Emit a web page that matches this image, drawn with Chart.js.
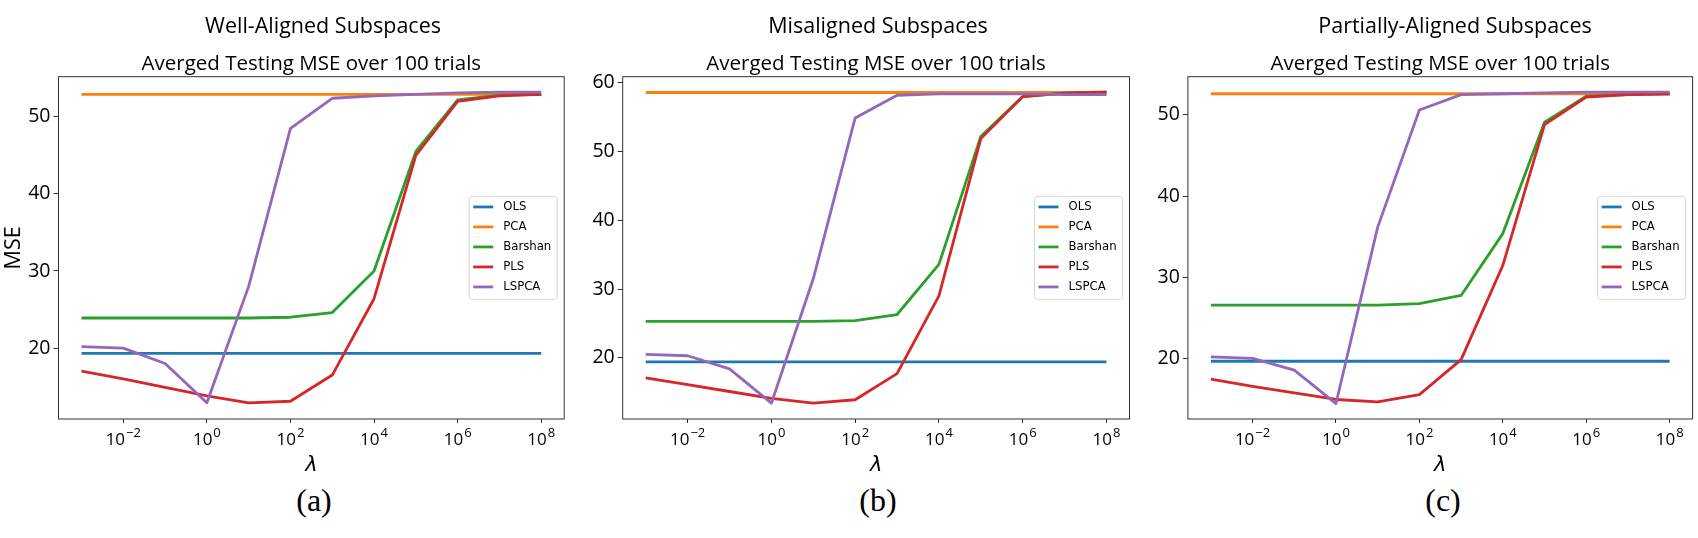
<!DOCTYPE html>
<html lang="en">
<head>
<meta charset="UTF-8">
<title>Averged Testing MSE over 100 trials</title>
<script src="https://cdn.jsdelivr.net/npm/chart.js"></script>
<style>
  body { margin: 0; background: #fff; }
  #fig { position: relative; width: 1698px; height: 538px; overflow: hidden; font-family: 'Open Sans', sans-serif; }
  #fig canvas { position: absolute; top: 0; }
  .suptitle { position: absolute; top: 25px; transform: translate(-50%, -50%); font-size: 21.5px; line-height: 1; white-space: nowrap; color: #000; }
  .caption { position: absolute; top: 500px; transform: translate(-50%, -50%); font-family: 'Liberation Serif', serif; font-size: 32px; line-height: 1; color: #000; }
</style>
</head>
<body>
<div id="fig">
  <canvas id="chartA" width="570" height="480" style="left:0px"></canvas>
  <canvas id="chartB" width="572" height="480" style="left:564px"></canvas>
  <canvas id="chartC" width="569" height="480" style="left:1129px"></canvas>

  <div class="suptitle" style="left:323px">Well-Aligned Subspaces</div>
  <div class="suptitle" style="left:878px">Misaligned Subspaces</div>
  <div class="suptitle" style="left:1455px">Partially-Aligned Subspaces</div>

  <div class="caption" style="left:314px">(a)</div>
  <div class="caption" style="left:878px">(b)</div>
  <div class="caption" style="left:1443px">(c)</div>
</div>
<script>
// lambda values (x axis, log scale)
const lambdas = [1e-3, 1e-2, 1e-1, 1e0, 1e1, 1e2, 1e3, 1e4, 1e5, 1e6, 1e7, 1e8];
const methods = ['OLS', 'PCA', 'Barshan', 'PLS', 'LSPCA'];
const colors = ['#1f77b4', '#ff7f0e', '#2ca02c', '#d62728', '#9467bd'];
// x tick labels are 10^exp
const xTickValues = [1e-2, 1e0, 1e2, 1e4, 1e6, 1e8];
const xTickExponents = ['−2', '0', '2', '4', '6', '8'];

// (a) Well-Aligned Subspaces
const wellOLS     = [19.3, 19.3, 19.3, 19.3, 19.3, 19.3, 19.3, 19.3, 19.3, 19.3, 19.3, 19.3];
const wellPCA     = [52.9, 52.9, 52.9, 52.9, 52.9, 52.9, 52.9, 52.9, 52.9, 52.9, 52.9, 52.9];
const wellBarshan = [23.9, 23.9, 23.9, 23.9, 23.9, 24.0, 24.6, 30.0, 45.5, 52.2, 52.8, 52.9];
const wellPLS     = [17.0, 16.0, 14.9, 13.8, 12.9, 13.1, 16.5, 26.4, 45.0, 52.0, 52.7, 52.9];
const wellLSPCA   = [20.2, 20.0, 18.0, 12.9, 28.0, 48.5, 52.4, 52.7, 52.9, 53.1, 53.2, 53.2];
const wellYTicks  = [20, 30, 40, 50];

// (b) Misaligned Subspaces
const misOLS     = [19.4, 19.4, 19.4, 19.4, 19.4, 19.4, 19.4, 19.4, 19.4, 19.4, 19.4, 19.4];
const misPCA     = [58.6, 58.6, 58.6, 58.6, 58.6, 58.6, 58.6, 58.6, 58.6, 58.6, 58.6, 58.6];
const misBarshan = [25.3, 25.3, 25.3, 25.3, 25.3, 25.4, 26.3, 33.6, 52.2, 58.0, 58.5, 58.6];
const misPLS     = [17.1, 16.1, 15.1, 14.1, 13.4, 13.9, 17.7, 29.0, 51.9, 58.0, 58.5, 58.7];
const misLSPCA   = [20.5, 20.3, 18.4, 13.4, 31.5, 54.9, 58.2, 58.4, 58.4, 58.4, 58.3, 58.3];
const misYTicks  = [20, 30, 40, 50, 60];

// (c) Partially-Aligned Subspaces
const partOLS     = [19.7, 19.7, 19.7, 19.7, 19.7, 19.7, 19.7, 19.7, 19.7, 19.7, 19.7, 19.7];
const partPCA     = [52.6, 52.6, 52.6, 52.6, 52.6, 52.6, 52.6, 52.6, 52.6, 52.6, 52.6, 52.6];
const partBarshan = [26.6, 26.6, 26.6, 26.6, 26.6, 26.8, 27.8, 35.4, 49.1, 52.3, 52.5, 52.6];
const partPLS     = [17.5, 16.6, 15.8, 15.0, 14.7, 15.6, 19.9, 31.5, 48.8, 52.2, 52.5, 52.6];
const partLSPCA   = [20.25, 20.05, 18.6, 14.5, 36.2, 50.6, 52.5, 52.6, 52.7, 52.8, 52.8, 52.8];
const partYTicks  = [20, 30, 40, 50];

Chart.defaults.font.family = "'Open Sans', sans-serif";
Chart.defaults.color = '#000';

// axes frame on all four sides, 10^n tick labels, legend box at centre right
const frameLegend = {
    id: 'frameLegend',
    afterDatasetsDraw(chart) {
        const { ctx, chartArea: a } = chart;
        ctx.save();
        ctx.strokeStyle = '#333';
        ctx.lineWidth = 1;
        ctx.strokeRect(a.left, a.top, a.right - a.left, a.bottom - a.top);

        // x tick labels with raised exponent
        const xs = chart.scales.x;
        const baseFont = "17px 'Open Sans', sans-serif";
        const expFont = "13px 'Open Sans', sans-serif";
        const baseY = a.bottom + 25.5;
        ctx.fillStyle = '#000';
        ctx.textBaseline = 'alphabetic';
        ctx.textAlign = 'left';
        xTickValues.forEach((v, i) => {
            const px = xs.getPixelForValue(v);
            ctx.font = baseFont;
            const wb = ctx.measureText('10').width;
            ctx.font = expFont;
            const we = ctx.measureText(xTickExponents[i]).width;
            const x0 = px - (wb + we + 1) / 2;
            ctx.font = baseFont;
            ctx.fillText('10', x0, baseY);
            ctx.font = expFont;
            ctx.fillText(xTickExponents[i], x0 + wb + 1, baseY - 7.8);
        });

        const w = 88, h = 103;
        const x0 = a.right - 7 - w;
        const y0 = (a.top + a.bottom) / 2 - h / 2;
        ctx.beginPath();
        ctx.roundRect(x0, y0, w, h, 3);
        ctx.fillStyle = 'rgba(255,255,255,0.8)';
        ctx.fill();
        ctx.strokeStyle = '#d6d6d6';
        ctx.stroke();

        ctx.font = '13px "Liberation Sans Narrow", "DejaVu Sans Condensed", sans-serif';
        ctx.textBaseline = 'middle';
        chart.data.datasets.forEach((ds, i) => {
            const y = y0 + 10.6 + i * 20;
            ctx.strokeStyle = ds.borderColor;
            ctx.lineWidth = 2.8;
            ctx.beginPath();
            ctx.moveTo(x0 + 4, y);
            ctx.lineTo(x0 + 24, y);
            ctx.stroke();
            ctx.fillStyle = '#000';
            ctx.fillText(ds.label, x0 + 34, y);
        });
        ctx.restore();
    }
};

function makeChart(id, series, yTicks, yMin, yMax, showYTitle, yAxisWidth, padRight) {
    const datasets = series.map((vals, i) => ({
        label: methods[i],
        data: lambdas.map((l, k) => ({ x: l, y: vals[k] })),
        borderColor: colors[i],
        backgroundColor: colors[i],
        borderWidth: 2.8,
        borderJoinStyle: 'round',
        pointRadius: 0,
        tension: 0,
        fill: false,
        order: methods.length - i
    }));

    return new Chart(document.getElementById(id), {
        type: 'line',
        data: { datasets },
        plugins: [frameLegend],
        options: {
            responsive: false,
            animation: false,
            devicePixelRatio: 1,
            layout: { padding: { top: 52, right: padRight, left: 0, bottom: 0 } },
            plugins: {
                legend: { display: false },
                tooltip: { enabled: false },
                title: {
                    display: true,
                    text: 'Averged Testing MSE over 100 trials',
                    fullSize: false,
                    font: { size: 20.5, weight: 'normal', lineHeight: 1.17 },
                    padding: { top: 0, bottom: 0.7 },
                    color: '#000'
                }
            },
            scales: {
                x: {
                    type: 'logarithmic',
                    min: Math.pow(10, -3.55),
                    max: Math.pow(10, 8.55),
                    afterBuildTicks: s => { s.ticks = xTickValues.map(v => ({ value: v })); },
                    afterFit: s => { s.height = 61; },
                    ticks: { display: false, autoSkip: false },
                    grid: { drawOnChartArea: false, drawTicks: true, tickLength: 4, color: '#333' },
                    border: { display: false },
                    title: {
                        display: true,
                        text: 'λ',
                        font: { size: 21, style: 'italic', family: "'DejaVu Sans', sans-serif" },
                        padding: { top: 0, bottom: 2 },
                        color: '#000'
                    }
                },
                y: {
                    min: yMin,
                    max: yMax,
                    afterBuildTicks: s => { s.ticks = yTicks.map(v => ({ value: v })); },
                    afterFit: s => { s.width = yAxisWidth; },
                    ticks: { font: { size: 19.5 }, color: '#000', padding: 3 },
                    grid: { drawOnChartArea: false, tickLength: 5, color: '#333' },
                    border: { display: false },
                    title: {
                        display: showYTitle,
                        text: 'MSE',
                        font: { size: 21.5 },
                        padding: { top: 1, bottom: 0 },
                        color: '#000'
                    }
                }
            }
        }
    });
}

makeChart('chartA', [wellOLS, wellPCA, wellBarshan, wellPLS, wellLSPCA], wellYTicks, 10.8, 55.2, true, 58.5, 5.8);
makeChart('chartB', [misOLS, misPCA, misBarshan, misPLS, misLSPCA], misYTicks, 11.1, 60.9, false, 58.7, 6.5);
makeChart('chartC', [partOLS, partPCA, partBarshan, partPLS, partLSPCA], partYTicks, 12.6, 54.7, false, 58.9, 5.4);
</script>
</body>
</html>
